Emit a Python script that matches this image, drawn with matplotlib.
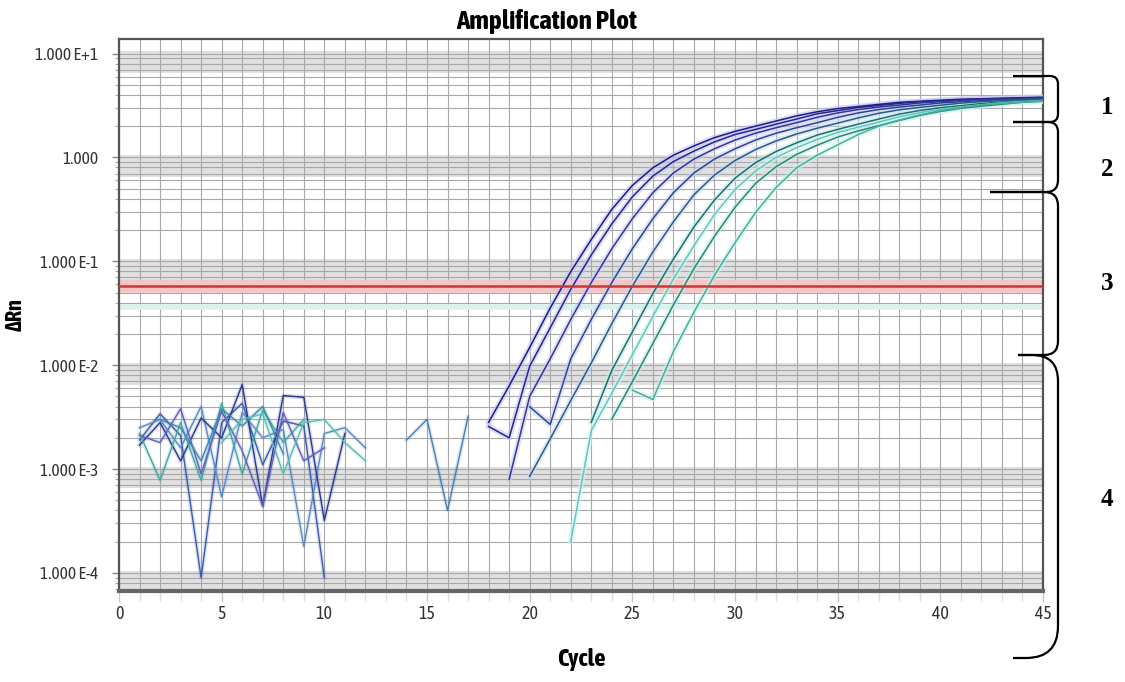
import matplotlib
matplotlib.use('Agg')
import matplotlib.pyplot as plt
import matplotlib.ticker as ticker
from matplotlib import font_manager
from matplotlib.path import Path
from matplotlib.patches import PathPatch

# ── Data ───────────────────────────────────────────────────────────────────
# amplification curves (first cycle, ΔRn values per cycle)
amp_start = [18, 18, 19, 20, 20, 23, 22, 24, 25]
amp_A = [0.00282, 0.00631, 0.0148, 0.0355, 0.0794, 0.162, 0.316, 0.537, 0.794, 1.05,
         1.29, 1.55, 1.78, 2.00, 2.24, 2.51, 2.75, 2.95, 3.09, 3.24, 3.39, 3.47, 3.55,
         3.63, 3.67, 3.72, 3.76, 3.80]
amp_B = [0.00257, 0.00200, 0.00977, 0.0229, 0.0537, 0.115, 0.229, 0.417, 0.661, 0.912,
         1.15, 1.41, 1.66, 1.86, 2.09, 2.34, 2.63, 2.82, 3.02, 3.16, 3.31, 3.43, 3.51,
         3.59, 3.63, 3.67, 3.72, 3.76]
amp_C = [0.000794, 0.00501, 0.0115, 0.0275, 0.0624, 0.132, 0.257, 0.457, 0.708, 0.964,
         1.21, 1.47, 1.71, 1.93, 2.16, 2.43, 2.68, 2.89, 3.05, 3.19, 3.34, 3.44, 3.52,
         3.61, 3.64, 3.69, 3.73]
amp_D = [0.00398, 0.00269, 0.0115, 0.0275, 0.0624, 0.132, 0.257, 0.457, 0.708, 0.964,
         1.21, 1.47, 1.71, 1.93, 2.16, 2.43, 2.68, 2.89, 3.05, 3.19, 3.34, 3.44, 3.52,
         3.59, 3.63, 3.67]
amp_E = [0.000851, 0.00195, 0.00457, 0.0105, 0.0251, 0.0575, 0.123, 0.240, 0.437, 0.676,
         0.933, 1.19, 1.44, 1.68, 1.91, 2.14, 2.40, 2.66, 2.87, 3.03, 3.18, 3.33, 3.44,
         3.52, 3.59, 3.63]
amp_F = [0.00282, 0.00891, 0.0209, 0.0490, 0.105, 0.214, 0.389, 0.631, 0.891, 1.14,
         1.38, 1.64, 1.86, 2.09, 2.34, 2.61, 2.83, 3.01, 3.15, 3.30, 3.42, 3.50, 3.57]
amp_G = [0.000200, 0.00234, 0.00537, 0.0126, 0.0295, 0.0676, 0.141, 0.282, 0.490, 0.741,
         1.00, 1.24, 1.49, 1.74, 1.95, 2.19, 2.46, 2.70, 2.91, 3.06, 3.21, 3.36, 3.45, 3.53]
amp_H = [0.00302, 0.00692, 0.0162, 0.0380, 0.0851, 0.174, 0.331, 0.562, 0.813, 1.07,
         1.31, 1.57, 1.80, 2.02, 2.27, 2.54, 2.77, 2.97, 3.11, 3.25, 3.40, 3.48]
amp_I = [0.00575, 0.00468, 0.0135, 0.0324, 0.0733, 0.151, 0.295, 0.513, 0.794, 1.05,
         1.32, 1.66, 2.00, 2.29, 2.57, 2.82, 3.02, 3.20, 3.31, 3.39, 3.47]
amp_values = [amp_A, amp_B, amp_C, amp_D, amp_E, amp_F, amp_G, amp_H, amp_I]

# early-cycle background noise (first cycle, values)
noise_start = [1, 1, 1, 1, 1, 2, 5, 14]
noise_1 = [0.0019, 0.0034, 0.0021, 0.00009, 0.0028, 0.0043, 0.0011, 0.0029, 0.0026, 0.00009]
noise_2 = [0.0025, 0.0030, 0.0016, 0.0040, 0.00054, 0.0035, 0.0020, 0.0024, 0.00018,
           0.0022, 0.0025, 0.0016]
noise_3 = [0.0017, 0.0028, 0.0012, 0.0031, 0.0020, 0.0065, 0.00044, 0.0051, 0.0049,
           0.00032, 0.0022]
noise_4 = [0.0022, 0.00078, 0.0028, 0.00078, 0.0043, 0.0009, 0.0037, 0.0018, 0.0030]
noise_5 = [0.0021, 0.0018, 0.0038, 0.0009, 0.0036, 0.0015, 0.00044, 0.0035, 0.0012, 0.0016]
noise_6 = [0.0030, 0.0025, 0.0012, 0.0038, 0.0026, 0.0040, 0.0014]
noise_7 = [0.0018, 0.0030, 0.0034, 0.0009, 0.0028, 0.0030, 0.0018, 0.0012]
noise_8 = [0.0019, 0.0030, 0.00040, 0.0032]
noise_values = [noise_1, noise_2, noise_3, noise_4, noise_5, noise_6, noise_7, noise_8]

threshold = 0.058
threshold_2 = 0.036

x_ticks = [0, 5, 10, 15, 20, 25, 30, 35, 40, 45]
y_ticks = [1e-4, 1e-3, 1e-2, 1e-1, 1, 10]
y_tick_labels = ['1.000 E-4', '1.000 E-3', '1.000 E-2', '1.000 E-1', '1.000', '1.000 E+1']
region_labels = ['1', '2', '3', '4']

# ── Style ──────────────────────────────────────────────────────────────────
fonts = font_manager.fontManager.ttflist

def weight_of(f):
    w = f.weight
    return w if isinstance(w, int) else font_manager.weight_dict.get(w, 400)

narrow_bold = sorted({f.name for f in fonts
                      if ('Narrow' in f.name or 'Condensed' in f.name) and weight_of(f) >= 600})
if any(f.name == 'Liberation Sans Narrow' for f in fonts):
    NARROW = 'Liberation Sans Narrow'
elif narrow_bold:
    NARROW = narrow_bold[0]
else:
    NARROW = 'Liberation Sans'
FAMILY = [NARROW, 'DejaVu Sans']

AMP_COLORS  = ['#1c1c86', '#26268f', '#34349a', '#2e4690', '#2a5a8a',
               '#1f6c74', '#62c8c0', '#2a8878', '#44b0a0']
AMP_HALOS   = ['#c4c4f0', '#c4c4f0', '#ccccf2', '#c8d0f0', '#c8daf0',
               '#c4ece6', '#d4f4f0', '#c8eee6', '#d0f2ea']
NOISE_COLORS = ['#3a5cb0', '#5a8ac8', '#2a3a90', '#40a8a0', '#6060c0',
                '#3a8ab0', '#58c0b0', '#4a80b8']
GRID_COLOR = '#a8a8a8'
BAND_COLOR = '#e0e0e0'

W, H = 1125, 682
fig = plt.figure(figsize=(W / 100, H / 100), dpi=100)
fig.patch.set_facecolor('white')
ax = fig.add_axes([119 / W, 1 - 591 / H, (1043 - 119) / W, (591 - 39) / H])

ax.set_yscale('log')
ax.set_xlim(0, 45)
ax.set_ylim(6.7e-5, 13.8)

# grey bands just below each decade line
for dec in y_ticks:
    ax.axhspan(dec * 0.65, dec * 1.05, color=BAND_COLOR, lw=0, zorder=0)

ax.xaxis.set_major_locator(ticker.FixedLocator(x_ticks))
ax.xaxis.set_minor_locator(ticker.MultipleLocator(1))
ax.yaxis.set_major_locator(ticker.FixedLocator(y_ticks))
ax.yaxis.set_major_formatter(ticker.FixedFormatter(y_tick_labels))
ax.yaxis.set_minor_locator(ticker.LogLocator(base=10, subs=range(2, 10), numticks=20))
ax.yaxis.set_minor_formatter(ticker.NullFormatter())
ax.grid(True, which='both', color=GRID_COLOR, lw=0.8, zorder=1)
ax.set_axisbelow(True)

# threshold lines
ax.axhline(threshold_2, color='#d8f2ee', lw=4, zorder=2)
ax.axhline(threshold, color='#f6c4c4', lw=9, zorder=2)
ax.axhline(threshold, color='#c43a3a', lw=1.8, zorder=6)

# noise
for start, vals, col in zip(noise_start, noise_values, NOISE_COLORS):
    cyc = list(range(start, start + len(vals)))
    ax.plot(cyc, vals, color=col, lw=3, alpha=0.18, zorder=3)
    ax.plot(cyc, vals, color=col, lw=1.0, zorder=4)

# amplification curves
for start, vals, col, halo in zip(amp_start, amp_values, AMP_COLORS, AMP_HALOS):
    cyc = list(range(start, start + len(vals)))
    ax.plot(cyc, vals, color=halo, lw=4, alpha=0.6, zorder=3)
    ax.plot(cyc, vals, color=col, lw=1.1, zorder=5)

for side in ['top', 'left', 'right']:
    ax.spines[side].set_color('#555555')
    ax.spines[side].set_linewidth(1.6)
ax.spines['bottom'].set_color('#666666')
ax.spines['bottom'].set_linewidth(3)

ax.tick_params(axis='x', which='major', length=8, width=1, color='#c8c8c8',
               labelsize=13, labelcolor='#333333', pad=2)
ax.tick_params(axis='x', which='minor', length=7, width=1, color='#dddddd')
ax.tick_params(axis='y', which='major', length=5, width=1, color='#888888',
               labelsize=12.5, labelcolor='#333333', pad=10)
ax.tick_params(axis='y', which='minor', length=3, width=0.8, color='#aaaaaa')
for lab in ax.get_xticklabels() + ax.get_yticklabels():
    lab.set_fontfamily(FAMILY)

ax.set_xlabel('Cycle', fontsize=18, fontweight='bold', family=FAMILY, labelpad=18)
ax.set_ylabel('ΔRn', fontsize=16, fontweight='bold', family=FAMILY, labelpad=6)
fig.text(547 / W, 1 - 22 / H, 'Amplification Plot', ha='center', va='center',
         fontsize=19.5, fontweight='bold', family=FAMILY)

# ── brackets on the right ────────────────────────────────────────────────────
def fig_xy(x, y):
    return (x / W, 1 - y / H)

def bracket(y0, y1, a0, a1, r0, r1, xv=1058):
    pts = [(a0, y0), (xv - r0, y0), (xv, y0), (xv, y0 + r0),
           (xv, y1 - r1), (xv, y1), (xv - r1, y1), (a1, y1)]
    codes = [Path.MOVETO, Path.LINETO, Path.CURVE3, Path.CURVE3,
             Path.LINETO, Path.CURVE3, Path.CURVE3, Path.LINETO]
    path = Path([fig_xy(*p) for p in pts], codes)
    fig.patches.append(PathPatch(path, transform=fig.transFigure, fill=False,
                                 lw=1.6, edgecolor='black'))

bracket(76, 122, 1013, 1013, 8, 8)
bracket(122, 192, 1013, 990, 10, 12)
bracket(192, 355, 990, 1018, 14, 14)
bracket(355, 658, 1018, 1013, 26, 32)

for lab, yp in zip(region_labels, [108, 170, 283, 500]):
    fig.text(1107 / W, 1 - yp / H, lab, ha='center', va='center', fontsize=18,
             fontweight='bold', family='Liberation Serif')

plt.savefig('out.png', dpi=100)
plt.close()
